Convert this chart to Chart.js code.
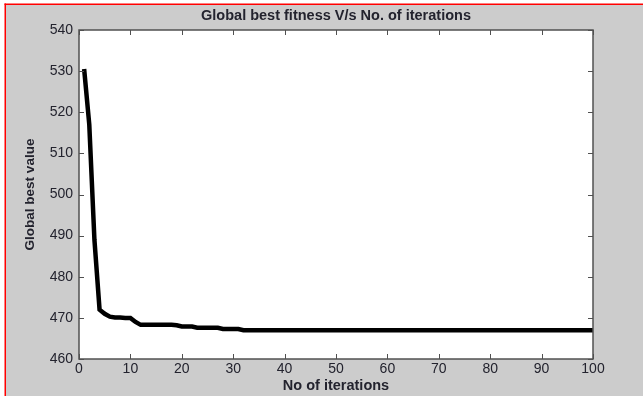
<!DOCTYPE html>
<html>
<head>
<meta charset="utf-8">
<script src="https://cdn.jsdelivr.net/npm/chart.js@4/dist/chart.umd.min.js"></script>
<style>
  html, body { margin: 0; padding: 0; background: #ffffff; }
  #wrap { width: 643px; height: 396px; position: relative; }
</style>
</head>
<body>
<div id="wrap"><canvas id="fitness"></canvas></div>
<script>
// iterations 1..100 and the global best value
const iterations = [];
for (let i = 1; i <= 100; i++) iterations.push(i);

const bestHead = [530.5, 517, 489, 472, 471, 470.3, 470.1, 470.1, 470, 470,
                  469, 468.3, 468.3, 468.3, 468.3, 468.3, 468.3, 468.3, 468.2, 467.9,
                  467.9, 467.9, 467.6, 467.6, 467.6, 467.6, 467.6, 467.3, 467.3, 467.3,
                  467.3];
const bestTail = new Array(100 - bestHead.length).fill(467);
const bestValues = bestHead.concat(bestTail);

const xTicks = [0, 10, 20, 30, 40, 50, 60, 70, 80, 90, 100];
const yTicks = [460, 470, 480, 490, 500, 510, 520, 530, 540];

const axisColor = '#505050';
const textColor = '#23232e';
const fontFamily = 'Liberation Sans, Arial, sans-serif';

// grey figure background with the red frame on top/left
const figureBackground = {
    id: 'figureBackground',
    beforeDraw(chart) {
        const ctx = chart.ctx;
        const area = chart.chartArea;
        ctx.save();
        ctx.fillStyle = '#ffffff';
        ctx.fillRect(0, 0, chart.width, chart.height);
        ctx.fillStyle = '#cccccc';
        ctx.fillRect(6, 5, chart.width - 6, chart.height - 5);
        ctx.fillStyle = '#ff0000';
        ctx.fillRect(4.5, 3.5, 1.5, chart.height);
        ctx.fillRect(4.5, 3.5, chart.width, 1.5);
        ctx.fillStyle = '#ffffff';
        ctx.fillRect(area.left, area.top, area.right - area.left, area.bottom - area.top);
        ctx.restore();
    }
};

// matlab-style box with inward ticks on all four sides
const boxTicks = {
    id: 'boxTicks',
    afterDatasetsDraw(chart) {
        const ctx = chart.ctx;
        const a = chart.chartArea;
        const xs = chart.scales.x, ys = chart.scales.y;
        const len = 5;
        ctx.save();
        ctx.strokeStyle = axisColor;
        ctx.lineWidth = 1;
        ctx.beginPath();
        xs.ticks.forEach(t => {
            const px = Math.round(xs.getPixelForValue(t.value)) + 0.5;
            ctx.moveTo(px, a.bottom); ctx.lineTo(px, a.bottom - len);
            ctx.moveTo(px, a.top); ctx.lineTo(px, a.top + len);
        });
        ys.ticks.forEach(t => {
            const py = Math.round(ys.getPixelForValue(t.value)) + 0.5;
            ctx.moveTo(a.left, py); ctx.lineTo(a.left + len, py);
            ctx.moveTo(a.right, py); ctx.lineTo(a.right - len, py);
        });
        ctx.stroke();
        ctx.lineWidth = 1.5;
        ctx.strokeRect(a.left, a.top, a.right - a.left, a.bottom - a.top);
        ctx.restore();
    }
};

new Chart(document.getElementById('fitness').getContext('2d'), {
    type: 'line',
    data: {
        labels: iterations,
        datasets: [{
            data: bestValues,
            borderColor: '#000000',
            borderWidth: 4.5,
            pointRadius: 0,
            tension: 0,
            fill: false
        }]
    },
    options: {
        responsive: true,
        maintainAspectRatio: false,
        animation: false,
        layout: { padding: { left: 0, right: 50, top: 0, bottom: 0 } },
        plugins: {
            legend: { display: false },
            tooltip: { enabled: false },
            title: {
                display: true,
                fullSize: false,
                text: 'Global best fitness V/s No. of iterations',
                color: textColor,
                font: { family: fontFamily, size: 14.5, weight: 'bold', lineHeight: 1.2 },
                padding: { top: 7.5, bottom: 5.1 }
            }
        },
        scales: {
            x: {
                type: 'linear',
                min: 0,
                max: 100,
                afterBuildTicks(scale) { scale.ticks = xTicks.map(v => ({ value: v })); },
                afterFit(scale) { scale.height = 37; },
                grid: { display: false, drawTicks: false },
                border: { display: false },
                ticks: {
                    color: textColor,
                    padding: 2,
                    maxRotation: 0,
                    font: { family: fontFamily, size: 14 }
                },
                title: {
                    display: true,
                    text: 'No of iterations',
                    color: textColor,
                    padding: { top: 0, bottom: 1 },
                    font: { family: fontFamily, size: 14.5, weight: 'bold' }
                }
            },
            y: {
                min: 460,
                max: 540,
                afterBuildTicks(scale) { scale.ticks = yTicks.map(v => ({ value: v })); },
                afterFit(scale) { scale.width = 79; },
                grid: { display: false, drawTicks: false },
                border: { display: false },
                ticks: {
                    color: textColor,
                    padding: 6,
                    font: { family: fontFamily, size: 14 }
                },
                title: {
                    display: true,
                    text: 'Global best value',
                    color: textColor,
                    padding: { top: 22, bottom: 0 },
                    font: { family: fontFamily, size: 13.5, weight: 'bold' }
                }
            }
        }
    },
    plugins: [figureBackground, boxTicks]
});
</script>
</body>
</html>
